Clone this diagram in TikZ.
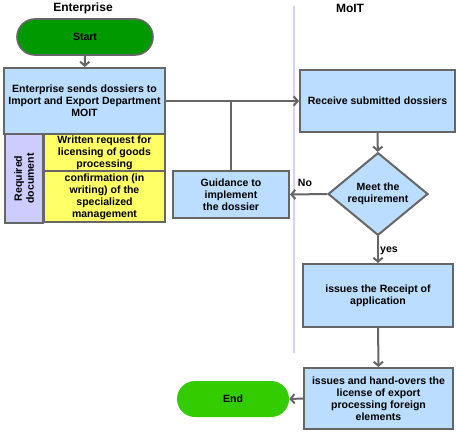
\documentclass[tikz,border=0pt]{standalone}
\usepackage{fontspec}
\setmainfont{Liberation Sans}
\usetikzlibrary{arrows.meta, shapes.geometric, shapes.misc}

\definecolor{boxblue}{HTML}{BBDDFF}
\definecolor{edgegray}{HTML}{666666}
\definecolor{startgreen}{HTML}{009900}
\definecolor{endgreen}{HTML}{33CC00}
\definecolor{docpurple}{HTML}{CCCCFF}
\definecolor{docyellow}{HTML}{FFFF66}
\definecolor{lanecolor}{HTML}{D4D4F8}

\begin{document}
\begin{tikzpicture}[
    every node/.style={font=\fontsize{7.9}{9}\selectfont\bfseries, align=center},
    lanetitle/.style={font=\fontsize{9}{10}\selectfont\bfseries},
    stepbox/.style={draw=edgegray, line width=1.5pt, fill=boxblue, inner sep=1pt},
    docbox/.style={draw=edgegray, line width=1pt, fill=docyellow, inner sep=1pt},
    terminal/.style={rounded rectangle, inner sep=0pt},
    decision/.style={diamond, draw=edgegray, line width=1.5pt, fill=boxblue, inner sep=0pt},
    flow/.style={edgegray, line width=1.5pt, -{Straight Barb[length=3pt, width=7pt]}},
]

% pixel grid of the reference, y going down
\begin{scope}[x=0.75pt, y=-0.75pt]

    \useasboundingbox (0, 0) rectangle (456, 439);

    % ------------------------------------------------------------ lanes
    \draw[lanecolor, line width=0.8pt] (294, 6) -- (294, 353);
    \node[lanetitle] (laneE) at (83, 8) {Enterprise};
    \node[lanetitle] (laneM) at (350, 8) {MoIT};

    % ------------------------------------------------------------ enterprise side
    \node[terminal, draw=edgegray, line width=1.2pt, fill=startgreen,
          minimum width=102pt, minimum height=27pt] (start) at (85, 37) {Start};

    \node[stepbox, minimum width=120.75pt, minimum height=49.5pt] (send)
        at (84.5, 101)
        {Enterprise sends dossiers to\\Import and Export Department\\MOIT};

    \node[draw=edgegray, line width=1pt, fill=docpurple, inner sep=0pt,
          minimum width=66.75pt, minimum height=28.5pt, rotate=90] (reqdoc)
        at (24, 178.5) {Required\\document};
    \node[docbox, minimum width=90.75pt, minimum height=27.75pt] (doc1)
        at (104.5, 152.5) {Written request for\\licensing of goods\\processing};
    \node[docbox, minimum width=90.75pt, minimum height=38.25pt] (doc2)
        at (104.5, 196.5)
        {confirmation (in\\writing) of the\\specialized\\management};

    \node[stepbox, minimum width=87pt, minimum height=35.25pt] (guide)
        at (231, 194.5) {Guidance to\\implement\\the dossier};

    \node[terminal, fill=endgreen, minimum width=84pt, minimum height=27pt]
        (end) at (233, 399) {End};

    % ------------------------------------------------------------ MoIT side
    \node[stepbox, minimum width=116.25pt, minimum height=46.5pt] (receive)
        at (377.5, 101) {Receive submitted dossiers};

    \node[decision, minimum width=75pt, minimum height=60pt] (check)
        at (378, 194) {Meet the\\requirement};

    \node[stepbox, minimum width=112.5pt, minimum height=47.25pt] (receipt)
        at (378, 295.5) {issues the Receipt of\\application};

    \node[stepbox, minimum width=111.75pt, minimum height=45.75pt] (licence)
        at (378.5, 398.5)
        {issues and hand-overs the\\license of export\\processing foreign\\elements};

    % ------------------------------------------------------------ connectors
    \draw[flow] (start) -- (send);
    \draw[flow] (send.east) -- (receive.west);
    \coordinate (join) at (guide.north |- send.east);
    \draw[edgegray, line width=1.5pt] (guide.north) -- (join);
    \draw[flow] (receive) -- (check);
    \draw[flow] (check.west) -- (guide.east);
    \node (no) at (305, 183) {No};
    \draw[flow] (check.south) -- (receipt.north);
    \node (yes) at (389, 251) {yes};
    \draw[flow] (receipt) -- (licence);
    \draw[flow] (licence.west) -- (end.east);

\end{scope}

\end{tikzpicture}
\end{document}
